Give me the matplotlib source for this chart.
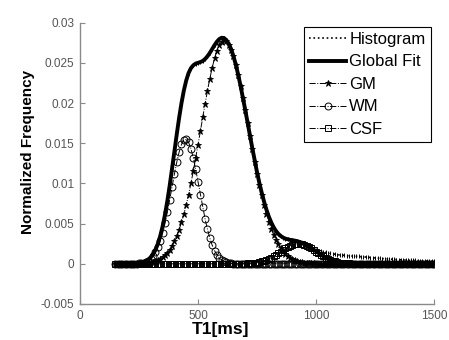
import numpy as np
import matplotlib
matplotlib.use('Agg')
import matplotlib.pyplot as plt

plt.rcParams['font.family'] = ['Liberation Sans', 'DejaVu Sans']

# T1 grid (ms)
t1 = np.arange(150, 1510, 10)

# grey matter component
gm = [0, 0, 0, 0, 0, 0, 0, 0,
      0.00001, 0.00002, 0.00003, 0.00005, 0.00007, 0.0001, 0.00013, 0.00019, 0.00026, 0.00035,
      0.00047, 0.00062, 0.00082, 0.00107, 0.00138, 0.00177, 0.00224, 0.0028, 0.00347, 0.00425,
      0.00515, 0.00617, 0.00733, 0.00862, 0.01002, 0.01153, 0.01314, 0.01481, 0.01652, 0.01823,
      0.01992, 0.02154, 0.02305, 0.02441, 0.02558, 0.02653, 0.02723, 0.02766, 0.0278, 0.02767,
      0.02729, 0.02667, 0.02582, 0.02477, 0.02354, 0.02217, 0.02068, 0.01912, 0.01751, 0.01589,
      0.01429, 0.01273, 0.01123, 0.00982, 0.00851, 0.00731, 0.00622, 0.00524, 0.00438, 0.00362,
      0.00297, 0.00241, 0.00194, 0.00155, 0.00122, 0.00096, 0.00074, 0.00057, 0.00043, 0.00033,
      0.00024, 0.00018, 0.00013, 0.0001, 0.00007, 0.00005, 0.00004, 0.00002, 0.00002, 0.00001,
      0, 0, 0, 0, 0, 0, 0, 0, 0, 0, 0, 0, 0, 0, 0, 0,
      0, 0, 0, 0, 0, 0, 0, 0, 0, 0, 0, 0, 0, 0, 0, 0,
      0, 0, 0, 0, 0, 0, 0, 0, 0, 0, 0, 0, 0, 0, 0, 0]

# white matter component
wm = [0, 0, 0, 0, 0, 0, 0, 0, 0, 0,
      0.00005, 0.00009, 0.00015, 0.00025, 0.0004, 0.00062, 0.00095, 0.00141, 0.00203, 0.00283,
      0.00383, 0.00503, 0.00642, 0.00795, 0.00956, 0.01116, 0.01265, 0.01391, 0.01485, 0.01539,
      0.01548, 0.01512, 0.01433, 0.01318, 0.01178, 0.01021, 0.00859, 0.00702, 0.00557, 0.00429,
      0.0032, 0.00232, 0.00164, 0.00112, 0.00074, 0.00048, 0.0003, 0.00018, 0.00011, 0.00006,
      0.00003, 0.00002, 0.00001,
      0, 0, 0, 0, 0, 0, 0, 0, 0, 0, 0, 0, 0, 0, 0, 0, 0, 0, 0, 0,
      0, 0, 0, 0, 0, 0, 0, 0, 0, 0, 0, 0, 0, 0, 0, 0, 0, 0, 0, 0,
      0, 0, 0, 0, 0, 0, 0, 0, 0, 0, 0, 0, 0, 0, 0, 0, 0, 0, 0, 0,
      0, 0, 0, 0, 0, 0, 0, 0, 0, 0, 0, 0, 0, 0, 0, 0, 0, 0, 0, 0,
      0, 0, 0]

# CSF component
csf = [0, 0, 0, 0, 0, 0, 0, 0, 0, 0, 0, 0, 0, 0, 0, 0, 0, 0, 0, 0,
       0, 0, 0, 0, 0, 0, 0, 0, 0, 0, 0, 0, 0, 0, 0, 0, 0, 0, 0, 0,
       0, 0, 0, 0, 0, 0, 0, 0, 0, 0, 0, 0, 0, 0, 0,
       0.00003, 0.00004, 0.00006, 0.00009, 0.00012, 0.00016, 0.00022, 0.0003, 0.00039, 0.00049,
       0.00062, 0.00077, 0.00094, 0.00112, 0.00132, 0.00152, 0.00172, 0.00191, 0.00209, 0.00224,
       0.00237, 0.00245, 0.00249, 0.00249, 0.00245, 0.00237, 0.00224, 0.00209, 0.00191, 0.00172,
       0.00152, 0.00132, 0.00112, 0.00094, 0.00077, 0.00062, 0.00049, 0.00039, 0.0003, 0.00022,
       0.00016, 0.00012, 0.00009, 0.00006, 0.00004, 0.00003, 0.00002, 0.00001,
       0, 0, 0, 0, 0, 0, 0, 0, 0, 0, 0, 0, 0, 0, 0, 0, 0,
       0, 0, 0, 0, 0, 0, 0, 0, 0, 0, 0, 0, 0, 0, 0, 0]

# measured histogram
hist = [0, 0, 0, 0, 0, 0, 0, 0,
        0.00001, 0.00002, 0.00008, 0.00014, 0.00022, 0.00035, 0.00053, 0.00081, 0.00121, 0.00176,
        0.0025, 0.00345, 0.00465, 0.0061, 0.0078, 0.00972, 0.0118, 0.01396, 0.01612, 0.01816,
        0.02, 0.02156, 0.02281, 0.02374, 0.02435, 0.02471, 0.02492, 0.02502, 0.02511, 0.02525,
        0.02549, 0.02583, 0.02625, 0.02673, 0.02722, 0.02765, 0.02797, 0.02814, 0.0281, 0.02785,
        0.0274, 0.02673, 0.02585, 0.02479, 0.02355, 0.02217, 0.02068, 0.01915, 0.01755, 0.01595,
        0.01438, 0.01285, 0.01139, 0.01004, 0.00881, 0.0077, 0.00671, 0.00586, 0.00515, 0.00456,
        0.00409, 0.00373, 0.00346, 0.00327, 0.00313, 0.00305, 0.00298, 0.00294, 0.00288, 0.00282,
        0.00273, 0.00263, 0.0025, 0.00236, 0.0022, 0.00203, 0.00186,
        0.0017, 0.00163, 0.00156, 0.00149, 0.00142, 0.00135, 0.00129, 0.00124, 0.00119, 0.00114,
        0.0011, 0.00107, 0.00104, 0.00101, 0.00099, 0.00097, 0.00095, 0.00093, 0.00091, 0.00089,
        0.00087, 0.00084, 0.00081, 0.00078, 0.00075, 0.00072, 0.0007, 0.00067, 0.00065, 0.00062,
        0.0006, 0.00058, 0.00056, 0.00054, 0.00052, 0.0005, 0.00049, 0.00047, 0.00046, 0.00044,
        0.00043, 0.00042, 0.00041, 0.0004, 0.00039, 0.00038, 0.00036, 0.00035, 0.00034, 0.00032,
        0.0003]

gm = np.array(gm)
wm = np.array(wm)
csf = np.array(csf)
hist = np.array(hist)
fit = gm + wm + csf

fig = plt.figure(figsize=(4.49, 3.40), dpi=100)
ax = fig.add_axes([0.178, 0.106, 0.789, 0.827])

ax.plot(t1, hist, color='k', ls=':', lw=1.2, label='Histogram')
ax.plot(t1, hist, color='k', ls='none', marker='|', ms=3.5, mew=0.7)
ax.plot(t1, fit, color='k', ls='-', lw=2.8, label='Global Fit')
ax.plot(t1, gm, color='k', ls='-.', lw=0.7, marker='*', ms=5, mew=0.6, label='GM')
ax.plot(t1, wm, color='k', ls='-.', lw=0.7, marker='o', ms=5, mfc='none', mew=0.7, label='WM')
ax.plot(t1, csf, color='k', ls='-.', lw=0.7, marker='s', ms=4.5, mfc='none', mew=0.7, label='CSF')

ax.set_xlim(0, 1500)
ax.set_ylim(-0.005, 0.03)
ax.set_xticks([0, 500, 1000, 1500])
yt = [-0.005, 0, 0.005, 0.01, 0.015, 0.02, 0.025, 0.03]
ax.set_yticks(yt)
ax.set_yticklabels(['-0.005', '0', '0.005', '0.01', '0.015', '0.02', '0.025', '0.03'])

for s in ['top', 'right']:
    ax.spines[s].set_visible(False)
for s in ['left', 'bottom']:
    ax.spines[s].set_color('#8a8a8a')
    ax.spines[s].set_linewidth(1.0)
ax.tick_params(direction='in', length=3.5, color='#8a8a8a', labelcolor='#555555', labelsize=8.5, pad=4)

ax.set_ylabel('Normalized Frequency', fontsize=11, fontweight='bold')
ax.yaxis.set_label_coords(-0.127, 0.539)
ax.set_xlabel('T1[ms]', fontsize=12.5, fontweight='bold')
ax.xaxis.set_label_coords(0.398, -0.064)

leg = ax.legend(loc='upper right', bbox_to_anchor=(0.99, 0.985), borderaxespad=0,
                fontsize=12, fancybox=False, framealpha=1, edgecolor='k',
                handlelength=2.2, handletextpad=0.2, labelspacing=0.45, borderpad=0.3)
leg.get_frame().set_linewidth(0.8)

fig.savefig('out.png', dpi=100)
